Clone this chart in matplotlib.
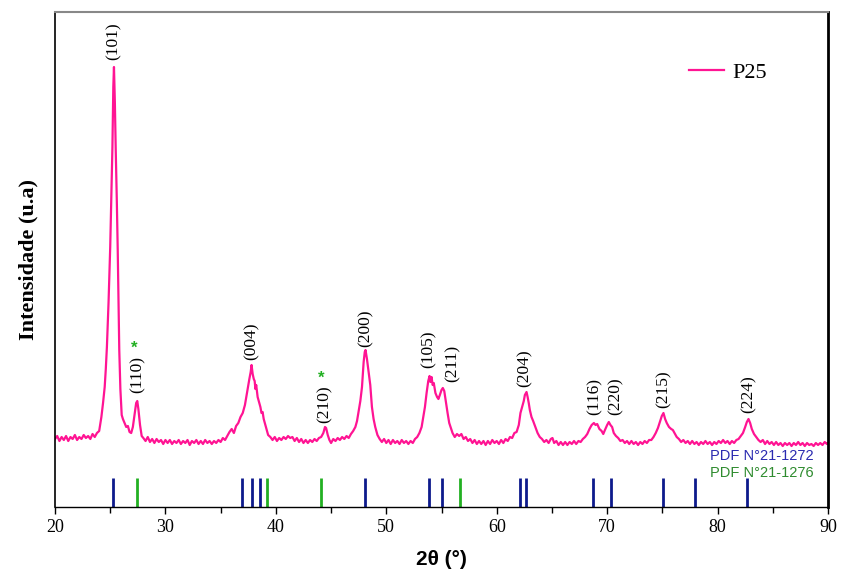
import numpy as np
import matplotlib
matplotlib.use('Agg')
import matplotlib.pyplot as plt
from matplotlib.ticker import MultipleLocator

# XRD pattern P25 (arbitrary units)
two_theta = [20.0, 20.2, 20.4, 20.6, 20.8, 21.0, 21.2, 21.4, 21.6, 21.8,
             22.0, 22.2, 22.4, 22.6, 22.8, 23.0, 23.2, 23.4, 23.6, 23.8,
             24.0, 24.2, 24.35, 24.5, 24.6, 24.7, 24.85, 25.0, 25.1, 25.2,
             25.28, 25.34, 25.42, 25.5, 25.6, 25.68, 25.75, 25.82, 25.92, 26.04,
             26.15, 26.3, 26.45, 26.6, 26.75, 26.9, 27.05, 27.2, 27.35, 27.45,
             27.55, 27.7, 27.85, 28.0, 28.2, 28.4, 28.6, 28.8, 29.0, 29.2,
             29.4, 29.6, 29.8, 30.0, 30.2, 30.4, 30.6, 30.8, 31.0, 31.2,
             31.4, 31.6, 31.8, 32.0, 32.2, 32.4, 32.6, 32.8, 33.0, 33.2,
             33.4, 33.6, 33.8, 34.0, 34.2, 34.4, 34.6, 34.8, 35.0, 35.2,
             35.4, 35.6, 35.8, 36.0, 36.2, 36.4, 36.6, 36.8, 37.0, 37.2,
             37.4, 37.6, 37.72, 37.8, 37.9, 38.0, 38.08, 38.15, 38.22, 38.35,
             38.5, 38.6, 38.7, 38.8, 38.9, 39.1, 39.3, 39.5, 39.7, 39.9,
             40.1, 40.3, 40.5, 40.7, 40.9, 41.1, 41.3, 41.5, 41.7, 41.9,
             42.1, 42.3, 42.5, 42.7, 42.9, 43.1, 43.3, 43.5, 43.7, 43.9,
             44.1, 44.3, 44.45, 44.55, 44.7, 44.85, 45.0, 45.2, 45.4, 45.6,
             45.8, 46.0, 46.2, 46.4, 46.6, 46.8, 47.0, 47.2, 47.35, 47.5,
             47.65, 47.8, 47.95, 48.05, 48.12, 48.25, 48.4, 48.55, 48.7, 48.85,
             49.0, 49.2, 49.4, 49.6, 49.8, 50.0, 50.2, 50.4, 50.6, 50.8,
             51.0, 51.2, 51.4, 51.6, 51.8, 52.0, 52.2, 52.4, 52.6, 52.8,
             53.0, 53.2, 53.35, 53.5, 53.65, 53.8, 53.92, 54.0, 54.1, 54.2,
             54.3, 54.45, 54.6, 54.72, 54.85, 55.0, 55.12, 55.25, 55.4, 55.55,
             55.7, 55.85, 56.0, 56.2, 56.4, 56.6, 56.8, 57.0, 57.2, 57.4,
             57.6, 57.8, 58.0, 58.2, 58.4, 58.6, 58.8, 59.0, 59.2, 59.4,
             59.6, 59.8, 60.0, 60.2, 60.4, 60.6, 60.8, 61.0, 61.2, 61.4,
             61.6, 61.8, 62.0, 62.15, 62.3, 62.45, 62.55, 62.7, 62.8, 62.9,
             63.0, 63.15, 63.3, 63.5, 63.7, 63.9, 64.1, 64.3, 64.5, 64.7,
             64.9, 65.05, 65.2, 65.4, 65.6, 65.8, 66.0, 66.2, 66.4, 66.6,
             66.8, 67.0, 67.2, 67.4, 67.6, 67.8, 68.0, 68.2, 68.4, 68.6,
             68.8, 68.95, 69.1, 69.3, 69.5, 69.65, 69.8, 70.0, 70.15, 70.3,
             70.45, 70.6, 70.8, 71.0, 71.2, 71.4, 71.6, 71.8, 72.0, 72.2,
             72.4, 72.6, 72.8, 73.0, 73.2, 73.4, 73.6, 73.8, 74.0, 74.2,
             74.4, 74.6, 74.8, 74.95, 75.1, 75.25, 75.4, 75.6, 75.8, 75.95,
             76.1, 76.3, 76.5, 76.7, 76.9, 77.1, 77.3, 77.5, 77.7, 77.9,
             78.1, 78.3, 78.5, 78.7, 78.9, 79.1, 79.3, 79.5, 79.7, 79.9,
             80.1, 80.3, 80.5, 80.7, 80.9, 81.1, 81.3, 81.5, 81.7, 81.9,
             82.1, 82.3, 82.5, 82.65, 82.8, 82.95, 83.1, 83.3, 83.5, 83.7,
             83.9, 84.1, 84.3, 84.5, 84.7, 84.9, 85.1, 85.3, 85.5, 85.7,
             85.9, 86.1, 86.3, 86.5, 86.7, 86.9, 87.1, 87.3, 87.5, 87.7,
             87.9, 88.1, 88.3, 88.5, 88.7, 88.9, 89.1, 89.3, 89.5, 89.7,
             89.9, 90.0]
intensity = [68, 71, 66, 70, 67, 71, 66, 70, 68, 72,
             67, 70, 68, 72, 69, 71, 68, 73, 70, 74,
             76, 90, 104, 120, 138, 160, 205, 260, 310, 360,
             420, 440, 405, 357, 305, 257, 205, 157, 118, 92,
             88, 84, 80, 81, 75, 74, 80, 92, 104, 106,
             98, 82, 71, 69, 66, 70, 65, 68, 64, 68,
             65, 67, 63, 67, 64, 67, 63, 66, 64, 67,
             63, 66, 64, 67, 62, 66, 64, 67, 63, 66,
             63, 67, 64, 66, 63, 66, 64, 67, 65, 69,
             67, 71, 75, 78, 74, 81, 84, 90, 94, 102,
             115, 128, 135, 142, 133, 128, 126, 118, 122, 110,
             104, 100, 94, 95, 88, 80, 72, 70, 67, 70,
             66, 69, 67, 70, 68, 71, 69, 70, 66, 69,
             65, 68, 64, 67, 64, 67, 65, 68, 66, 69,
             70, 74, 80, 79, 72, 67, 64, 68, 66, 69,
             67, 70, 68, 71, 69, 73, 76, 80, 86, 96,
             106, 120, 145, 155, 157, 148, 135, 122, 100, 88,
             80, 72, 68, 65, 68, 64, 67, 63, 67, 64,
             66, 63, 67, 64, 66, 63, 66, 64, 68, 70,
             74, 80, 90, 100, 114, 126, 131, 125, 130, 122,
             124, 114, 110, 108, 112, 117, 119, 116, 105, 94,
             84, 79, 74, 70, 73, 71, 73, 68, 70, 66,
             68, 64, 67, 63, 66, 63, 66, 62, 66, 63,
             67, 64, 66, 63, 67, 64, 68, 66, 70, 69,
             74, 75, 82, 94, 100, 106, 112, 115, 110, 104,
             97, 90, 86, 80, 74, 70, 68, 65, 67, 64,
             68, 69, 64, 66, 62, 65, 62, 65, 62, 65,
             63, 66, 63, 66, 65, 68, 70, 73, 78, 82,
             84, 82, 83, 78, 76, 73, 77, 82, 85, 82,
             80, 74, 71, 69, 66, 67, 64, 66, 63, 66,
             63, 65, 62, 65, 63, 66, 64, 67, 67, 70,
             74, 79, 86, 91, 94, 88, 84, 80, 78, 77,
             74, 70, 68, 65, 67, 64, 66, 63, 66, 63,
             65, 62, 65, 63, 66, 63, 65, 62, 65, 63,
             66, 64, 67, 64, 66, 63, 66, 64, 67, 68,
             71, 74, 80, 85, 88, 84, 78, 73, 70, 67,
             65, 67, 63, 66, 63, 65, 62, 65, 62, 64,
             61, 64, 62, 64, 61, 64, 62, 65, 62, 64,
             61, 64, 62, 63, 61, 64, 62, 64, 62, 65,
             63, 64]

# reference patterns (anatase PDF 21-1272, rutile PDF 21-1276)
anatase_pos = [25.28, 36.95, 37.80, 38.58, 48.05, 53.89, 55.06, 62.12, 62.69,
               68.76, 70.31, 75.03, 78.0, 82.66]
rutile_pos = [27.45, 39.19, 44.05, 56.64]

# peak labels
peak_labels = ['(101)', '(110)', '(004)', '(210)', '(200)', '(105)', '(211)',
               '(204)', '(116)', '(220)', '(215)', '(224)']
label_x = [25.3, 27.45, 37.8, 44.4, 48.1, 53.85, 56.0, 62.55, 68.85, 70.75, 75.15, 82.85]
label_y = [447, 114, 147, 84, 160, 139, 125, 120, 92, 92, 99, 94]
rutile_marks = ['(110)', '(210)']

pink = '#ff1493'
navy = '#0d1a8c'
green = '#22b022'

fig = plt.figure(figsize=(8.42, 5.81), dpi=100)
ax = fig.add_axes([55 / 842, 74 / 581, 773 / 842, 495 / 581])

ax.plot(two_theta, intensity, color=pink, lw=1.6, label='P25')
ax.vlines(anatase_pos, 0, 29, colors=navy, lw=2)
ax.vlines(rutile_pos, 0, 29, colors=green, lw=2)

serif = 'Liberation Serif'
sans = 'Liberation Sans'
for txt, x, y in zip(peak_labels, label_x, label_y):
    ax.text(x, y, txt, rotation=90, ha='center', va='bottom',
            fontsize=12.5, family=serif)
    if txt in rutile_marks:
        ax.text(x - 0.3, y + 40, '*', ha='center', va='baseline',
                fontsize=12, color=green, family=sans, fontweight='bold')

ax.text(88.7, 51, 'PDF N°21-1272', ha='right', va='center', fontsize=10.5,
        color='#2a2ab0', family=sans)
ax.text(88.7, 34, 'PDF N°21-1276', ha='right', va='center', fontsize=10.5,
        color='#2e8b2e', family=sans)

ax.set_xlim(20, 90)
ax.set_ylim(0, 495)
ax.set_yticks([])
ax.xaxis.set_major_locator(MultipleLocator(10))
ax.xaxis.set_minor_locator(MultipleLocator(5))
ax.tick_params(axis='x', which='major', direction='out', length=5, width=1,
               labelsize=13, pad=4)
ax.tick_params(axis='x', which='minor', direction='out', length=4, width=1)
for lab in ax.get_xticklabels():
    lab.set_family(serif)

ax.spines['top'].set_color('#888888')
ax.spines['top'].set_linewidth(1.5)
ax.spines['right'].set_linewidth(2)
ax.spines['left'].set_linewidth(1.2)
ax.spines['bottom'].set_linewidth(1)

ax.set_xlabel('2θ (°)', fontsize=15, fontweight='bold', family=sans, labelpad=10)
ax.set_ylabel('Intensidade (u.a)', fontsize=16, fontweight='bold', family=serif, labelpad=12)

ax.legend(loc='center left', bbox_to_anchor=(0.82, 0.877), frameon=False,
          prop={'family': serif, 'size': 16}, handlelength=1.6, handletextpad=0.35,
          borderpad=0, borderaxespad=0)

fig.savefig('out.png', dpi=100)
